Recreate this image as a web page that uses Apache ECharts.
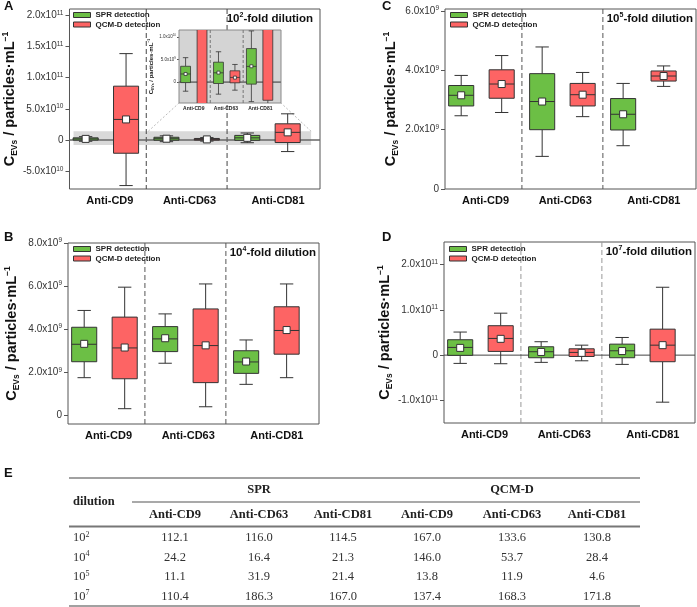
<!DOCTYPE html>
<html><head><meta charset="utf-8">
<script src="https://cdn.jsdelivr.net/npm/echarts@6/dist/echarts.min.js"></script>
<style>html,body{margin:0;padding:0;background:#fff}#c{width:697px;height:607px}</style>
</head><body><div id="c"></div>
<script>
// ---------------- DATA ----------------
const groups = ['Anti-CD9', 'Anti-CD63', 'Anti-CD81'];
const sprPos = [1, 3, 5];
const qcmPos = [2, 4, 6];
// each box: [low whisker, Q1, median, Q3, high whisker]
const aSPR = [[-2.0e9, -0.1e9, 1.8e9, 3.5e9, 5.4e9], [-2.65e9, -0.3e9, 2.06e9, 4.4e9, 6.7e9], [-4.3e9, -0.44e9, 3.47e9, 7.4e9, 11.3e9]];
const aQCM = [[-7.3e10, -2.12e10, 3.3e10, 8.63e10, 1.385e11], [-1.77e9, -0.15e9, 1.04e9, 2.5e9, 3.9e9], [-1.85e10, -4.0e9, 1.23e10, 2.6e10, 4.2e10]];
const aSPRMean = [1.8e9, 2.1e9, 3.5e9];
const aQCMMean = [3.3e10, 1.0e9, 1.23e10];

const bSPR = [[1.75e9, 2.49e9, 3.30e9, 4.09e9, 4.87e9], [2.42e9, 2.96e9, 3.55e9, 4.12e9, 4.71e9], [1.44e9, 1.95e9, 2.48e9, 3.0e9, 3.5e9]];
const bQCM = [[0.31e9, 1.70e9, 3.13e9, 4.56e9, 5.95e9], [0.40e9, 1.52e9, 3.24e9, 4.94e9, 6.1e9], [1.75e9, 2.84e9, 3.94e9, 5.04e9, 6.1e9]];
const bSPRMean = [3.32e9, 3.58e9, 2.5e9];
const bQCMMean = [3.15e9, 3.25e9, 3.96e9];

const cSPR = [[2.47e9, 2.80e9, 3.16e9, 3.49e9, 3.83e9], [1.10e9, 2.0e9, 2.95e9, 3.89e9, 4.79e9], [1.46e9, 1.99e9, 2.52e9, 3.05e9, 3.56e9]];
const cQCM = [[2.58e9, 3.06e9, 3.54e9, 4.02e9, 4.5e9], [2.44e9, 2.80e9, 3.18e9, 3.56e9, 3.93e9], [3.46e9, 3.64e9, 3.81e9, 3.98e9, 4.15e9]];
const cSPRMean = [3.16e9, 2.95e9, 2.52e9];
const cQCMMean = [3.54e9, 3.18e9, 3.81e9];

const dSPR = [[-1.83e10, -0.05e10, 1.7e10, 3.4e10, 5.1e10], [-1.6e10, -0.58e10, 0.75e10, 1.85e10, 2.96e10], [-2.05e10, -0.58e10, 0.96e10, 2.43e10, 3.9e10]];
const dQCM = [[-1.9e10, 0.82e10, 3.69e10, 6.5e10, 9.27e10], [-1.25e10, -0.3e10, 0.6e10, 1.4e10, 2.2e10], [-1.04e11, -1.46e10, 2.2e10, 5.74e10, 1.5e11]];
const dSPRMean = [1.6e10, 0.7e10, 0.9e10];
const dQCMMean = [3.6e10, 0.5e10, 2.2e10];

// tick values and labels
const aTicks = [-5e10, 0, 5e10, 1e11, 1.5e11, 2e11];
const aTickLabels = ['-5.0x10^10', '0', '5.0x10^10', '1.0x10^11', '1.5x10^11', '2.0x10^11'];
const bTicks = [0, 2e9, 4e9, 6e9, 8e9];
const bTickLabels = ['0', '2.0x10^9', '4.0x10^9', '6.0x10^9', '8.0x10^9'];
const cTicks = [0, 2e9, 4e9, 6e9];
const cTickLabels = ['0', '2.0x10^9', '4.0x10^9', '6.0x10^9'];
const dTicks = [-1e11, 0, 1e11, 2e11];
const dTickLabels = ['-1.0x10^11', '0', '1.0x10^11', '2.0x10^11'];
const insetTicks = [0, 5e9, 1e10];
const insetTickLabels = ['0', '5.0x10^9', '1.0x10^10'];

const dilutionExp = ['2', '4', '5', '7'];
const tableRows = ['10^2', '10^4', '10^5', '10^7'];
const tableSPR = [[112.1, 116.0, 114.5], [24.2, 16.4, 21.3], [11.1, 31.9, 21.4], [110.4, 186.3, 167.0]];
const tableQCM = [[167.0, 133.6, 130.8], [146.0, 53.7, 28.4], [13.8, 11.9, 4.6], [137.4, 168.3, 171.8]];

// ---------------- STYLE ----------------
const GREEN = '#6cbf45';
const RED = '#fd6464';
const DARK = '#333';
const FONT = 'Liberation Sans, Arial, sans-serif';
const SERIF = 'Liberation Serif, Times New Roman, serif';

const chart = echarts.init(document.getElementById('c'), null, {renderer: 'canvas'});

function supLabel(s) {
  if (s.indexOf('^') < 0) return '{m|' + s + '}';
  const p = s.split('^');
  return '{m|' + p[0] + '}{e|' + p[1] + '}';
}

const grids = [
  {left: 68, top: 9, width: 252, height: 180},   // A
  {left: 68, top: 243, width: 251, height: 181}, // B
  {left: 445, top: 9, width: 251, height: 180},  // C
  {left: 444, top: 242, width: 251, height: 181},// D
  {left: 179, top: 30, width: 102, height: 73}   // inset
];
const nameGaps = [50, 47, 45, 48, 18];
const yRanges = [[-7.85e10, 2.1e11], [-0.4e9, 8e9], [0, 6.07e9], [-1.5e11, 2.5e11], [-4.6e9, 1.15e10]];
const tickSets = [[aTicks, aTickLabels], [bTicks, bTickLabels], [cTicks, cTickLabels], [dTicks, dTickLabels], [insetTicks, insetTickLabels]];
const labelPos = [[1.6, 3.57, 5.76], [1.6, 3.57, 5.76], [1.6, 3.57, 5.76], [1.6, 3.57, 5.76], [1.5, 3.45, 5.55]];

const xAxes = grids.map((g, i) => {
  const inset = i === 4;
  return {
    type: 'value', gridIndex: i, min: 0.6, max: 6.8,
    splitLine: {show: false}, axisLine: {show: false}, axisTick: {show: false},
    axisLabel: {
      customValues: labelPos[i],
      formatter: v => { const k = labelPos[i].findIndex(p => Math.abs(p - v) < 1e-6); return k >= 0 ? groups[k] : ''; },
      fontFamily: FONT, fontWeight: 'bold', fontSize: inset ? 5 : 11, color: inset ? '#222' : '#111',
      margin: inset ? 3 : 6
    }
  };
});

const yAxes = grids.map((g, i) => {
  const inset = i === 4;
  const [ticks, labels] = tickSets[i];
  return {
    type: 'value', gridIndex: i, min: yRanges[i][0], max: yRanges[i][1],
    splitLine: {show: false},
    axisLine: {show: false},
    axisTick: {show: true, inside: false, length: inset ? 2 : 4, customValues: ticks, lineStyle: {color: '#555', width: 1}},
    axisLabel: {
      customValues: ticks, margin: inset ? 3 : 6,
      formatter: v => { const k = ticks.findIndex(t => Math.abs(t - v) <= Math.abs(t) * 1e-6 + 1e-3); return k >= 0 ? supLabel(labels[k]) : ''; },
      rich: {
        m: {fontFamily: FONT, fontSize: inset ? 4.5 : 10, color: '#333', lineHeight: inset ? 6 : 12},
        e: {fontFamily: FONT, fontSize: inset ? 3 : 6.5, color: '#333', verticalAlign: 'top', lineHeight: inset ? 6 : 12}
      }
    },
    name: '{b|C}{sub|EVs}{b| / particles\u00b7mL}{sup|\u22121}',
    nameLocation: 'middle', nameRotate: 90, nameGap: nameGaps[i],
    nameTextStyle: {
      rich: {
        b: {fontFamily: FONT, fontWeight: 'bold', fontSize: inset ? 6 : 14.5, color: '#111', lineHeight: inset ? 8 : 18},
        sub: {fontFamily: FONT, fontWeight: 'bold', fontSize: inset ? 3.5 : 8.5, color: '#111', verticalAlign: 'bottom', lineHeight: inset ? 8 : 18},
        sup: {fontFamily: FONT, fontWeight: 'bold', fontSize: inset ? 3.5 : 8.5, color: '#111', verticalAlign: 'top', lineHeight: inset ? 8 : 18}
      }
    }
  };
});

function boxRenderer(opt) {
  return function (params, api) {
    const x = api.value(0);
    const lo = api.coord([x, api.value(1)]);
    const q1 = api.coord([x, api.value(2)]);
    const md = api.coord([x, api.value(3)]);
    const q3 = api.coord([x, api.value(4)]);
    const hi = api.coord([x, api.value(5)]);
    const mn = api.coord([x, api.value(6)]);
    const bw = api.size([opt.boxW, 0])[0];
    const cw = api.size([opt.capW, 0])[0];
    const cx = lo[0];
    const st = {stroke: DARK, lineWidth: opt.lw};
    const ch = [
      {type: 'line', shape: {x1: cx, y1: hi[1], x2: cx, y2: q3[1]}, style: st},
      {type: 'line', shape: {x1: cx, y1: q1[1], x2: cx, y2: lo[1]}, style: st},
      {type: 'line', shape: {x1: cx - cw / 2, y1: hi[1], x2: cx + cw / 2, y2: hi[1]}, style: st},
      {type: 'line', shape: {x1: cx - cw / 2, y1: lo[1], x2: cx + cw / 2, y2: lo[1]}, style: st},
      {type: 'rect', shape: {x: cx - bw / 2, y: q3[1], width: bw, height: q1[1] - q3[1]}, style: {fill: api.visual('color'), stroke: DARK, lineWidth: opt.lw}},
      {type: 'line', shape: {x1: cx - bw / 2, y1: md[1], x2: cx + bw / 2, y2: md[1]}, style: st},
      {type: 'rect', shape: {x: mn[0] - opt.ms / 2, y: mn[1] - opt.ms / 2, width: opt.ms, height: opt.ms}, style: {fill: '#fff', stroke: DARK, lineWidth: opt.lw}}
    ];
    return {type: 'group', children: ch};
  };
}

function boxData(pos, boxes, means) {
  return boxes.map((b, k) => [pos[k], b[0], b[1], b[2], b[3], b[4], means[k]]);
}

const panelData = [
  [aSPR, aSPRMean, aQCM, aQCMMean],
  [bSPR, bSPRMean, bQCM, bQCMMean],
  [cSPR, cSPRMean, cQCM, cQCMMean],
  [dSPR, dSPRMean, dQCM, dQCMMean],
  [aSPR, aSPRMean, aQCM, aQCMMean]
];

const series = [];
const sepColors = ['#444', '#555', '#555', '#999', '#777'];
panelData.forEach((pd, i) => {
  const inset = i === 4;
  if (inset) {
    series.push({
      type: 'custom', xAxisIndex: i, yAxisIndex: i, z: 5, silent: true, clip: false,
      data: [[0]],
      renderItem: (params, api) => {
        const cs = params.coordSys;
        return {type: 'rect', shape: {x: cs.x, y: cs.y, width: cs.width, height: cs.height}, style: {fill: '#d4d4d4', stroke: '#8a8a8a', lineWidth: 1}};
      }
    });
  }
  series.push({
    type: 'custom', xAxisIndex: i, yAxisIndex: i, z: inset ? 6 : 1, silent: true, clip: true,
    data: [[2.5], [4.5]],
    renderItem: (params, api) => {
      const cs = params.coordSys;
      const p = api.coord([api.value(0), 0]);
      return {type: 'line', shape: {x1: p[0], y1: cs.y, x2: p[0], y2: cs.y + cs.height},
        style: {stroke: sepColors[i], lineWidth: 1, lineDash: inset ? [3, 2] : [5, 3]}};
    }
  });
  if (i === 0 || i === 3 || i === 4) {
    series.push({
      type: 'custom', xAxisIndex: i, yAxisIndex: i, z: inset ? 6 : 1, silent: true, clip: true,
      data: [[0]],
      renderItem: (params, api) => {
        const cs = params.coordSys;
        const p = api.coord([1, api.value(0)]);
        return {type: 'line', shape: {x1: cs.x, y1: p[1], x2: cs.x + cs.width, y2: p[1]},
          style: {stroke: i === 0 ? '#666' : (i === 4 ? '#777' : '#444'), lineWidth: i === 3 ? 1 : 1.6}};
      }
    });
  }
  if (i === 0) {
    series.push({
      type: 'custom', xAxisIndex: 0, yAxisIndex: 0, z: 0, silent: true, clip: true,
      data: [[0.7, -8e9, 6.58, 1.4e10]],
      renderItem: (params, api) => {
        const p1 = api.coord([api.value(0), api.value(3)]);
        const p2 = api.coord([api.value(2), api.value(1)]);
        return {type: 'rect', shape: {x: p1[0], y: p1[1], width: p2[0] - p1[0], height: p2[1] - p1[1]}, style: {fill: '#d9d9d9'}};
      }
    });
  }
  const opt = inset ? {boxW: 0.6, capW: 0.33, lw: 0.8, ms: 3} : {boxW: 0.62, capW: 0.33, lw: 1, ms: 7};
  series.push({
    name: 'SPR detection', type: 'custom', xAxisIndex: i, yAxisIndex: i, z: inset ? 7 : 3, clip: true,
    itemStyle: {color: GREEN}, renderItem: boxRenderer(opt),
    encode: {x: 0, y: [1, 2, 3, 4, 5]},
    data: boxData(sprPos, pd[0], pd[1])
  });
  series.push({
    name: 'QCM-D detection', type: 'custom', xAxisIndex: i, yAxisIndex: i, z: inset ? 7 : 3, clip: true,
    itemStyle: {color: RED}, renderItem: boxRenderer(opt),
    encode: {x: 0, y: [1, 2, 3, 4, 5]},
    data: boxData(qcmPos, pd[2], pd[3])
  });
});

const legendPos = [[73, 10.5], [73, 244.5], [450, 10.5], [449, 244.5]];
const legends = legendPos.map(p => ({
  left: p[0], top: p[1], orient: 'vertical', padding: 0, itemGap: 0.5, itemWidth: 17, itemHeight: 5,
  selectedMode: false,
  textStyle: {fontFamily: FONT, fontSize: 8, fontWeight: 'bold', color: '#222', lineHeight: 9},
  data: [
    {name: 'SPR detection', icon: 'rect', itemStyle: {color: GREEN, borderColor: DARK, borderWidth: 1}},
    {name: 'QCM-D detection', icon: 'rect', itemStyle: {color: RED, borderColor: DARK, borderWidth: 1}}
  ]
}));

chart.setOption({
  animation: false,
  backgroundColor: '#fff',
  grid: grids.map((g, i) => Object.assign({show: i !== 4, borderColor: '#555', borderWidth: 1, backgroundColor: 'transparent'}, g)),
  xAxis: xAxes, yAxis: yAxes, series: series, legend: legends
});

// ---------------- graphics: titles, letters, table, connectors ----------------
const g = [];
const letterStyle = {font: 'bold 13px ' + FONT, fill: '#111'};
[['A', 4, 0], ['B', 4, 231], ['C', 382, 0], ['D', 382, 231], ['E', 4, 467]].forEach(l => {
  g.push({type: 'text', left: l[1], top: l[2], style: Object.assign({text: l[0]}, letterStyle)});
});
const dilPos = [[313, 19], [316, 253], [693, 19], [692, 252]];
dilPos.forEach((p, k) => {
  g.push({type: 'text', x: p[0], y: p[1], style: {
    text: '{b|10}{s|' + dilutionExp[k] + '}{b|-fold dilution}', align: 'right', verticalAlign: 'middle',
    rich: {b: {font: 'bold 11.5px ' + FONT, fill: '#111', lineHeight: 14}, s: {font: 'bold 7px ' + FONT, fill: '#111', verticalAlign: 'top', lineHeight: 14}}
  }});
});
// connectors from the highlighted band to the inset
const pA1 = chart.convertToPixel({gridIndex: 0}, [2.55, 1.4e10]);
const pI1 = chart.convertToPixel({gridIndex: 4}, [0.6, yRanges[4][0]]);
const pA2 = chart.convertToPixel({gridIndex: 0}, [6.58, 1.4e10]);
const pI2 = chart.convertToPixel({gridIndex: 4}, [6.8, yRanges[4][0]]);
[[pA1, pI1], [pA2, pI2]].forEach(pp => {
  g.push({type: 'line', z: 1, shape: {x1: pp[0][0], y1: pp[0][1], x2: pp[1][0], y2: pp[1][1]}, style: {stroke: '#bbb', lineWidth: 1, lineDash: [2, 2]}});
});
// table
const tL = 69, tR = 640;
const colX = [175, 259, 343, 427, 512, 597];
const yTop = 478, yHead1 = 490, yMid = 502, yHead2 = 515, yThick = 526.5, rowY = [538, 557.5, 577, 596.5], yBot = 606;
g.push({type: 'line', shape: {x1: tL, y1: yTop, x2: tR, y2: yTop}, style: {stroke: '#444', lineWidth: 1.2}});
g.push({type: 'line', shape: {x1: 132, y1: yMid, x2: tR, y2: yMid}, style: {stroke: '#555', lineWidth: 1.2}});
g.push({type: 'line', shape: {x1: tL, y1: yThick, x2: tR, y2: yThick}, style: {stroke: '#777', lineWidth: 2.2}});
g.push({type: 'line', shape: {x1: tL, y1: yBot, x2: tR, y2: yBot}, style: {stroke: '#444', lineWidth: 1.2}});
const hf = 'bold 12.5px ' + SERIF;
g.push({type: 'text', x: 73, y: yMid, style: {text: 'dilution', font: hf, fill: '#222', verticalAlign: 'middle'}});
g.push({type: 'text', x: colX[1], y: yHead1, style: {text: 'SPR', font: hf, fill: '#222', align: 'center', verticalAlign: 'middle'}});
g.push({type: 'text', x: colX[4], y: yHead1, style: {text: 'QCM-D', font: hf, fill: '#222', align: 'center', verticalAlign: 'middle'}});
groups.concat(groups).forEach((n, k) => {
  g.push({type: 'text', x: colX[k], y: yHead2, style: {text: n, font: hf, fill: '#222', align: 'center', verticalAlign: 'middle'}});
});
tableRows.forEach((r, ri) => {
  const p = r.split('^');
  g.push({type: 'text', x: 73, y: rowY[ri], style: {text: '{b|' + p[0] + '}{s|' + p[1] + '}', verticalAlign: 'middle',
    rich: {b: {font: '12.5px ' + SERIF, fill: '#333', lineHeight: 15}, s: {font: '8px ' + SERIF, fill: '#333', verticalAlign: 'top', lineHeight: 15}}}});
  tableSPR[ri].concat(tableQCM[ri]).forEach((v, k) => {
    g.push({type: 'text', x: colX[k], y: rowY[ri], style: {text: v.toFixed(1), font: '12.5px ' + SERIF, fill: '#333', align: 'center', verticalAlign: 'middle'}});
  });
});
chart.setOption({graphic: g});
</script></body></html>
